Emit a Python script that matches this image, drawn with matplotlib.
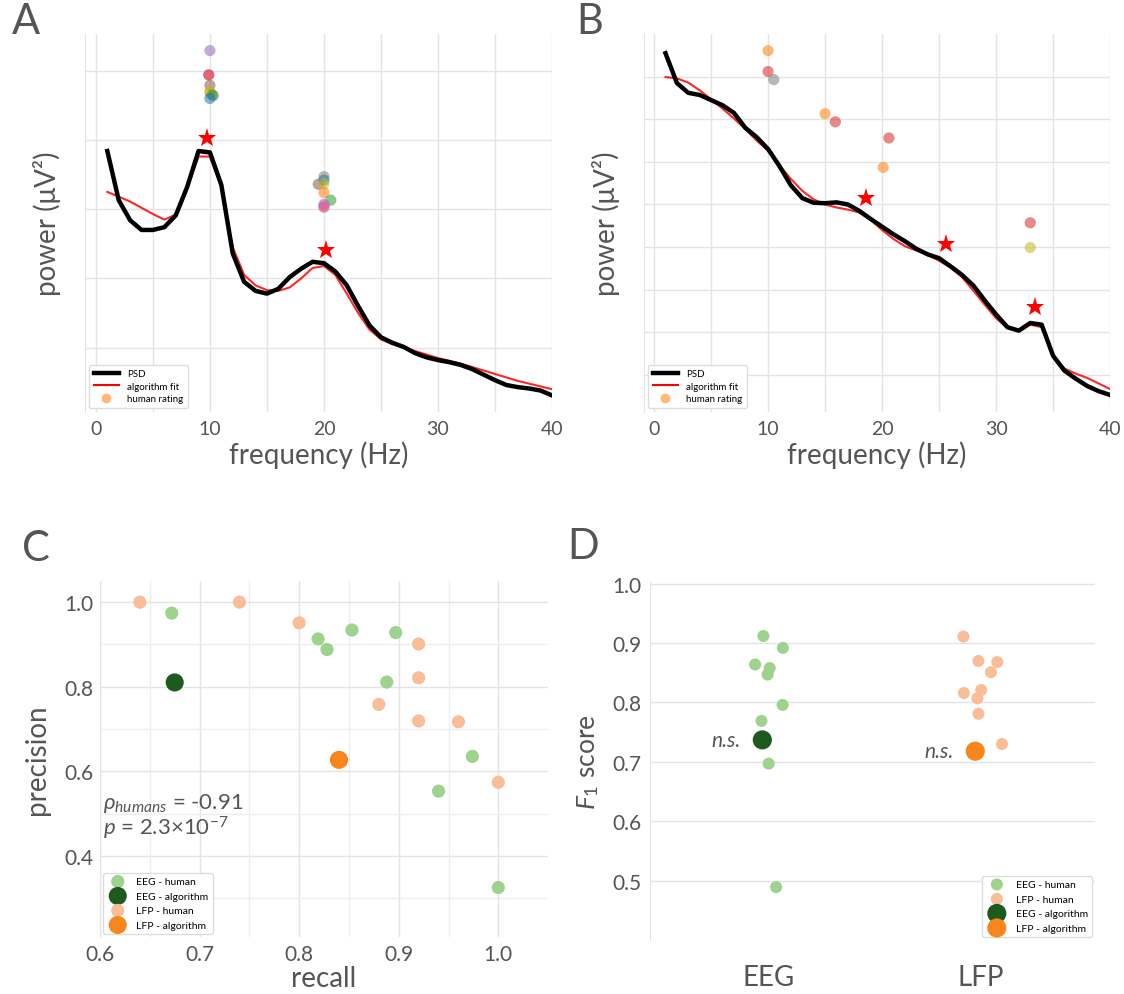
import matplotlib.pyplot as plt
from matplotlib.lines import Line2D

plt.rcParams['font.family'] = ['Lato', 'DejaVu Sans']
plt.rcParams['mathtext.fontset'] = 'custom'
plt.rcParams['mathtext.rm'] = 'Lato'
plt.rcParams['mathtext.it'] = 'Lato:italic'
plt.rcParams['mathtext.bf'] = 'Lato:bold'

TEXT = '#555555'
GRID = '#e4e4e4'

# ---- spectra (log10 power), 1 Hz bins ----
freqs = list(range(1, 41))

eeg_psd = [0.84, 0.13, -0.16, -0.30, -0.30, -0.26, -0.09, 0.32, 0.84, 0.82,
           0.35, -0.64, -1.05, -1.18, -1.22, -1.15, -0.98, -0.86, -0.76, -0.78,
           -0.90, -1.10, -1.40, -1.68, -1.85, -1.93, -1.99, -2.08, -2.14, -2.18,
           -2.21, -2.25, -2.31, -2.39, -2.47, -2.54, -2.57, -2.59, -2.62, -2.69]
eeg_fit = [0.25, 0.18, 0.11, 0.02, -0.07, -0.15, -0.08, 0.30, 0.76, 0.76,
           0.32, -0.55, -0.95, -1.10, -1.17, -1.18, -1.13, -1.00, -0.85, -0.82,
           -0.95, -1.22, -1.50, -1.74, -1.88, -1.95, -2.00, -2.05, -2.10, -2.15,
           -2.19, -2.23, -2.28, -2.33, -2.38, -2.43, -2.48, -2.52, -2.56, -2.60]
eeg_peak_freq = [9.7, 20.2]
eeg_peak_pow = [1.03, -0.59]

eeg_rater_freq = [10.0, 9.9, 9.9, 10.0, 10.0, 10.0, 10.3, 10.2, 10.0,
                  20.0, 20.0, 19.5, 20.0, 20.0, 20.6, 20.0, 20.0, 20.0]
eeg_rater_pow = [2.29, 1.94, 1.94, 1.79, 1.68, 1.70, 1.64, 1.65, 1.60,
                 0.47, 0.42, 0.36, 0.37, 0.24, 0.13, 0.07, 0.03, 0.05]
eeg_rater_color = ['tab:purple', 'tab:pink', 'tab:red', 'tab:brown', 'tab:orange',
                   'tab:olive', 'tab:gray', 'tab:green', 'tab:blue',
                   'tab:gray', 'tab:blue', 'tab:brown', 'tab:olive', 'tab:orange',
                   'tab:green', 'tab:purple', 'tab:red', 'tab:pink']

lfp_psd = [7.55, 6.85, 6.62, 6.57, 6.45, 6.33, 6.15, 5.80, 5.58, 5.30,
           4.90, 4.45, 4.15, 4.04, 4.03, 4.05, 4.00, 3.85, 3.66, 3.48,
           3.30, 3.14, 2.96, 2.83, 2.74, 2.55, 2.35, 2.10, 1.75, 1.42,
           1.12, 1.04, 1.22, 1.18, 0.45, 0.10, -0.09, -0.26, -0.38, -0.47]
lfp_fit = [6.99, 6.96, 6.86, 6.68, 6.47, 6.25, 6.02, 5.77, 5.50, 5.26,
           4.92, 4.60, 4.32, 4.12, 4.00, 3.93, 3.88, 3.81, 3.64, 3.40,
           3.19, 3.02, 2.92, 2.82, 2.68, 2.52, 2.30, 1.98, 1.65, 1.33,
           1.10, 1.02, 1.18, 1.12, 0.45, 0.15, 0.03, -0.07, -0.20, -0.33]
lfp_peak_freq = [18.6, 25.6, 33.4]
lfp_peak_pow = [4.16, 3.08, 1.59]

lfp_rater_freq = [10.0, 10.0, 10.5, 15.0, 15.9, 20.6, 20.1, 33.0, 33.0]
lfp_rater_pow = [7.61, 7.12, 6.93, 6.13, 5.94, 5.56, 4.87, 3.57, 2.99]
lfp_rater_color = ['tab:orange', 'tab:red', 'tab:gray', 'tab:orange', 'tab:red',
                   'tab:red', 'tab:orange', 'tab:red', 'tab:olive']

# ---- precision / recall ----
eeg_human_recall = [0.672, 0.819, 0.828, 0.853, 0.897, 0.888, 0.974, 0.940, 1.0]
eeg_human_precision = [0.974, 0.913, 0.888, 0.934, 0.928, 0.811, 0.635, 0.553, 0.325]
eeg_algo_recall = [0.675]
eeg_algo_precision = [0.810]
lfp_human_recall = [0.640, 0.740, 0.800, 0.920, 0.920, 0.880, 0.920, 0.960, 1.0]
lfp_human_precision = [1.0, 1.0, 0.951, 0.901, 0.821, 0.758, 0.719, 0.717, 0.574]
lfp_algo_recall = [0.840]
lfp_algo_precision = [0.627]

# ---- F1 scores (x = category position with jitter) ----
eeg_human_x = [-0.025, 0.067, -0.064, 0.005, -0.005, 0.066, -0.034, 0.0, 0.035]
eeg_human_f1 = [0.912, 0.892, 0.864, 0.858, 0.847, 0.796, 0.769, 0.697, 0.489]
eeg_algo_x = [-0.03]
eeg_algo_f1 = [0.737]
lfp_human_x = [0.919, 0.99, 1.079, 1.049, 1.003, 0.921, 0.985, 0.99, 1.101]
lfp_human_f1 = [0.911, 0.870, 0.868, 0.851, 0.821, 0.816, 0.807, 0.781, 0.730]
lfp_algo_x = [0.975]
lfp_algo_f1 = [0.718]
categories = ['EEG', 'LFP']

GREEN_LIGHT = '#9dd38d'
GREEN_DARK = '#1d5a1d'
ORANGE_LIGHT = '#f9bd98'
ORANGE = '#f7861c'


def style_axes(ax):
    for side in ['top', 'right', 'bottom']:
        ax.spines[side].set_visible(False)
    ax.spines['left'].set_color(GRID)
    ax.tick_params(which='both', length=0, colors=TEXT)
    ax.set_axisbelow(True)


def psd_panel(ax, psd, fit, pk_f, pk_p, r_f, r_p, r_c, ylim, yticks, xmin):
    ax.plot(freqs, psd, color='black', lw=3.2, label='PSD', zorder=3,
            solid_joinstyle='round')
    ax.plot(freqs, fit, color='red', lw=1.5, alpha=0.85, label='algorithm fit', zorder=2)
    ax.scatter(r_f, r_p, c=r_c, s=65, alpha=0.55, edgecolors='none', zorder=4)
    ax.plot(pk_f, pk_p, '*', color='red', ms=14, mew=0, zorder=5)
    ax.set_xlim(xmin, 40)
    ax.set_ylim(*ylim)
    ax.set_xticks([0, 10, 20, 30, 40])
    ax.set_xticks([5, 15, 25, 35], minor=True)
    ax.set_yticks(yticks)
    ax.set_yticklabels([])
    ax.grid(True, which='both', color=GRID, lw=1)
    style_axes(ax)
    ax.tick_params(axis='x', labelsize=14, pad=6)
    ax.set_xlabel('frequency (Hz)', fontsize=20, color=TEXT, labelpad=2)
    ax.set_ylabel('power (μV²)', fontsize=20, color=TEXT, labelpad=14)
    handles = [Line2D([], [], color='black', lw=3.2),
               Line2D([], [], color='red', lw=1.5),
               Line2D([], [], ls='', marker='o', ms=7, color='tab:orange', alpha=0.55, mec='none')]
    ax.legend(handles, ['PSD', 'algorithm fit', 'human rating'], loc='lower left',
              fontsize=7, frameon=True, framealpha=1, edgecolor='#dddddd',
              borderaxespad=0.4, handlelength=2.6, labelspacing=0.35, borderpad=0.5)


fig = plt.figure(figsize=(11.24, 9.95), dpi=100)

ax_a = fig.add_axes([0.0756, 0.5849, 0.4155, 0.3799])
psd_panel(ax_a, eeg_psd, eeg_fit, eeg_peak_freq, eeg_peak_pow,
          eeg_rater_freq, eeg_rater_pow, eeg_rater_color,
          (-2.93, 2.53), [-2, -1, 0, 1, 2], -0.96)

ax_b = fig.add_axes([0.573, 0.5849, 0.4146, 0.3799])
psd_panel(ax_b, lfp_psd, lfp_fit, lfp_peak_freq, lfp_peak_pow,
          lfp_rater_freq, lfp_rater_pow, lfp_rater_color,
          (-0.87, 8.0), list(range(8)), -0.88)

# ---- C: precision vs recall ----
ax_c = fig.add_axes([0.089, 0.0573, 0.3986, 0.3578])
ax_c.scatter(eeg_human_recall, eeg_human_precision, s=90, color=GREEN_LIGHT,
             edgecolors='none', label='EEG - human', zorder=3)
ax_c.scatter(eeg_algo_recall, eeg_algo_precision, s=170, color=GREEN_DARK,
             edgecolors='none', label='EEG - algorithm', zorder=3)
ax_c.scatter(lfp_human_recall, lfp_human_precision, s=90, color=ORANGE_LIGHT,
             edgecolors='none', label='LFP - human', zorder=3)
ax_c.scatter(lfp_algo_recall, lfp_algo_precision, s=170, color=ORANGE,
             edgecolors='none', label='LFP - algorithm', zorder=3)
ax_c.set_xlim(0.6, 1.05)
ax_c.set_ylim(0.208, 1.05)
ax_c.set_xticks([0.6, 0.7, 0.8, 0.9, 1.0])
ax_c.set_xticks([0.65, 0.75, 0.85, 0.95], minor=True)
ax_c.set_yticks([0.4, 0.6, 0.8, 1.0])
ax_c.set_yticks([0.3, 0.5, 0.7, 0.9], minor=True)
ax_c.grid(True, which='major', color=GRID, lw=1)
ax_c.grid(True, which='minor', color='#eeeeee', lw=1)
style_axes(ax_c)
ax_c.tick_params(labelsize=15, pad=5)
ax_c.set_xlabel('recall', fontsize=20, color=TEXT, labelpad=1)
ax_c.set_ylabel('precision', fontsize=20, color=TEXT, labelpad=10)
ax_c.text(0.603, 0.527, r'$\rho_{humans}$ = -0.91', fontsize=16, color=TEXT, va='center')
ax_c.text(0.603, 0.468, r'$p$ = 2.3×10$^{-7}$', fontsize=16, color=TEXT, va='center')
ax_c.legend(loc='lower left', fontsize=7.5, frameon=True, framealpha=1,
            edgecolor='#dddddd', borderaxespad=0.3, labelspacing=0.5,
            markerscale=1.0, handletextpad=0.8)

# ---- D: F1 scores ----
ax_d = fig.add_axes([0.5783, 0.0543, 0.3959, 0.3598])
h1 = ax_d.scatter(eeg_human_x, eeg_human_f1, s=75, color=GREEN_LIGHT,
                  edgecolors='none', zorder=3)
h2 = ax_d.scatter(lfp_human_x, lfp_human_f1, s=75, color=ORANGE_LIGHT,
                  edgecolors='none', zorder=3)
h3 = ax_d.scatter(eeg_algo_x, eeg_algo_f1, s=190, color=GREEN_DARK,
                  edgecolors='none', zorder=4)
h4 = ax_d.scatter(lfp_algo_x, lfp_algo_f1, s=190, color=ORANGE,
                  edgecolors='none', zorder=4)
ax_d.text(eeg_algo_x[0] - 0.1, eeg_algo_f1[0], 'n.s.', style='italic', fontsize=15,
          color=TEXT, ha='right', va='center')
ax_d.text(lfp_algo_x[0] - 0.1, lfp_algo_f1[0], 'n.s.', style='italic', fontsize=15,
          color=TEXT, ha='right', va='center')
ax_d.set_xlim(-0.56, 1.54)
ax_d.set_ylim(0.4, 1.003)
ax_d.set_xticks([0, 1])
ax_d.set_xticklabels(categories)
ax_d.set_yticks([0.5, 0.6, 0.7, 0.8, 0.9, 1.0])
ax_d.grid(True, axis='y', color=GRID, lw=1)
style_axes(ax_d)
ax_d.tick_params(axis='y', labelsize=15, pad=6)
ax_d.tick_params(axis='x', labelsize=20, pad=17)
ax_d.set_ylabel(r'$F_{1}$ score', fontsize=19, color=TEXT, labelpad=8)
ax_d.legend([h1, h2, h3, h4],
            ['EEG - human', 'LFP - human', 'EEG - algorithm', 'LFP - algorithm'],
            loc='lower right', fontsize=7.5, frameon=True, framealpha=1,
            edgecolor='#dddddd', borderaxespad=0.3, labelspacing=0.5,
            handletextpad=0.8)

for label, x, y in [('A', 0.023, 0.978), ('B', 0.525, 0.978),
                    ('C', 0.032, 0.448), ('D', 0.519, 0.450)]:
    fig.text(x, y, label, fontsize=30, color=TEXT, ha='center', va='center')

fig.savefig('out.png', dpi=100)
